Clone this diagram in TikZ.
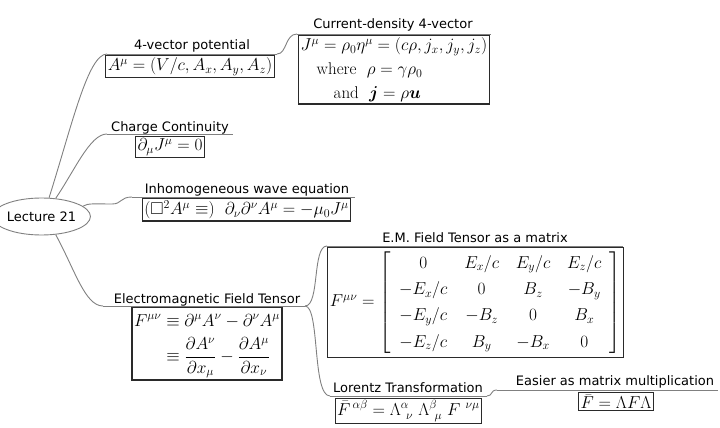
\documentclass[tikz,border=0pt]{standalone}
\usepackage{amsmath,amssymb,bm}
\usepackage{fontspec}
\newfontfamily\labelfont{DejaVu Sans}
\usetikzlibrary{shapes.geometric}
\definecolor{linec}{HTML}{808080}
\definecolor{boxc}{HTML}{2A2A2A}
\newcommand{\mathsz}{\fontsize{17}{24}\selectfont}
\begin{document}
\begin{tikzpicture}[x=1pt,y=-1pt,
  lbl/.style={font=\labelfont\fontsize{13}{15}\selectfont, anchor=base, inner sep=0pt, text=black},
  mbox/.style={draw=boxc, line width=1.2pt, inner sep=2pt, anchor=north, font=\mathsz},
  edge/.style={draw=linec, line width=0.9pt},
  uline/.style={draw=linec, line width=0.9pt}]
\useasboundingbox (0,0) rectangle (720,428);

% central node
\node[ellipse, draw=linec, line width=0.9pt, minimum width=83pt, minimum height=37pt, inner sep=0pt,
      font=\labelfont\fontsize{13}{15}\selectfont] (lec) at (41.5,216.5) {Lecture 21};

% underline coordinates
\coordinate (u1a) at (107,54);  \coordinate (u1b) at (277,54);
\coordinate (u2a) at (297,34);  \coordinate (u2b) at (491,34);
\coordinate (u3a) at (107,134); \coordinate (u3b) at (233,134);
\coordinate (u4a) at (132,197); \coordinate (u4b) at (355,197);
\coordinate (u5a) at (103,306); \coordinate (u5b) at (305,306);
\coordinate (u6a) at (327,246); \coordinate (u6b) at (623,246);
\coordinate (u7a) at (330,396); \coordinate (u7b) at (487,396);
\coordinate (u8a) at (497,390); \coordinate (u8b) at (718,390);

% labels
\node[lbl] (l1) at (192,50)  {4-vector potential};
\node[lbl] (l2) at (393,29)  {Current-density 4-vector};
\node[lbl] (l3) at (170,131) {Charge Continuity};
\node[lbl] (l4) at (247,193) {Inhomogeneous wave equation};
\node[lbl] (l5) at (207,303) {Electromagnetic Field Tensor};
\node[lbl] (l6) at (475,242) {E.M. Field Tensor as a matrix};
\node[lbl] (l7) at (408,392) {Lorentz Transformation};
\node[lbl] (l8) at (615,385) {Easier as matrix multiplication};

% boxes
\node[mbox] (b1) at (190,55) {$A^\mu = (V/c, A_x, A_y, A_z)$};
\node[mbox, align=left] (b2) at (394,35) {$J^\mu = \rho_0\eta^\mu = (c\rho, j_x, j_y, j_z)$\\
  \hspace*{16pt}where\ \ $\rho = \gamma\rho_0$\\
  \hspace*{33pt}and\ \ $\bm{j} = \rho\bm{u}$};
\node[mbox] (b3) at (170,136) {$\partial_\mu J^\mu = 0$};
\node[mbox] (b4) at (246.5,198) {$(\Box^2 A^\mu \equiv)\ \ \partial_\nu\partial^\nu A^\mu = -\mu_0 J^\mu$};
\node[mbox] (b5) at (207,307) {$\begin{aligned} F^{\mu\nu} &\equiv \partial^\mu A^\nu - \partial^\nu A^\mu\\
  &\equiv \frac{\partial A^\nu}{\partial x_\mu} - \frac{\partial A^\mu}{\partial x_\nu}\end{aligned}$};
\node[mbox] (b6) at (475.5,247) {\renewcommand{\arraystretch}{1.1}\setlength{\arraycolsep}{8.4pt}$F^{\mu\nu} = \left[\begin{array}{cccc}
  0 & E_x/c & E_y/c & E_z/c\\
  -E_x/c & 0 & B_z & -B_y\\
  -E_y/c & -B_z & 0 & B_x\\
  -E_z/c & B_y & -B_x & 0
  \end{array}\right]$};
\node[mbox] (b7) at (408.5,398) {$\bar F^{\,\alpha\beta} = \Lambda^\alpha_{\ \nu}\ \Lambda^\beta_{\ \mu}\ F^{\ \nu\mu}$};
\node[mbox] (b8) at (616,392) {$\bar F = \Lambda F \Lambda$};

% underlines
\foreach \i in {1,...,8} { \draw[uline] (u\i a) -- (u\i b); }

% connectors
\draw[edge] (lec.68) .. controls (72,125) and (88,54) .. (u1a);
\draw[edge] (lec.52) .. controls (75,170) and (90,134) .. (u3a);
\draw[edge] (lec.14) .. controls (88,203) and (95,204) .. (112,204)
            .. controls (122,204) and (120,197) .. (u4a);
\draw[edge] (lec.-52) .. controls (75,270) and (85,306) .. (u5a);
\draw[edge] (u1b) .. controls (287,54) and (285,34) .. (u2a);
\draw[edge] (u5b) .. controls (320,306) and (312,246) .. (u6a);
\draw[edge] (u5b) .. controls (320,306) and (312,396) .. (u7a);
\draw[edge] (u7b) .. controls (493,396) and (490,390) .. (u8a);
\end{tikzpicture}
\end{document}
